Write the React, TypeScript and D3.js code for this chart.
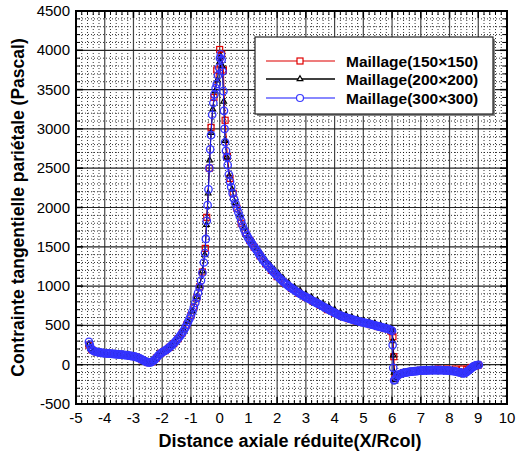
import React from "react";
import * as d3 from "d3";

const xTicks = [-5, -4, -3, -2, -1, 0, 1, 2, 3, 4, 5, 6, 7, 8, 9, 10];
const yTicks = [-500, 0, 500, 1000, 1500, 2000, 2500, 3000, 3500, 4000, 4500];

const redX = [-4.55, -4.45, -4.3, -4.1, -3.9, -3.7, -3.5, -3.3, -3.1, -2.9, -2.7, -2.5, -2.35, -2.2, -2.05, -1.9, -1.75, -1.6, -1.45, -1.3, -1.15, -1.0, -0.9, -0.8, -0.7, -0.6, -0.5, -0.45, -0.36, -0.3, -0.2, -0.1, 0.0, 0.07, 0.13, 0.19, 0.27, 0.36, 0.47, 0.6, 0.75, 0.9, 1.05, 1.2, 1.4, 1.6, 1.8, 2.0, 2.25, 2.5, 2.75, 3.0, 3.25, 3.5, 3.75, 4.0, 4.25, 4.5, 4.75, 5.0, 5.25, 5.5, 5.75, 5.95, 6.0, 6.03, 6.06, 6.1, 6.2, 6.4, 6.7, 7.0, 7.3, 7.6, 7.9, 8.2, 8.45, 8.6, 8.75, 8.9, 9.0];
const redY = [250, 190, 165, 150, 143, 136, 129, 121, 112, 95, 62, 28, 38, 85, 145, 178, 220, 268, 330, 405, 505, 625, 730, 850, 990, 1180, 1480, 1875, 2500, 3020, 3400, 3750, 4010, 3950, 3750, 3110, 2650, 2370, 2180, 1990, 1800, 1680, 1580, 1495, 1385, 1285, 1200, 1120, 1040, 970, 910, 855, 805, 755, 700, 655, 615, 585, 555, 535, 510, 485, 460, 430, 420, 356, 102, -170, -125, -100, -85, -72, -65, -55, -55, -55, -55, -58, -35, -15, -5];

const blackX = [-4.55, -4.48, -4.4, -4.25, -4.1, -3.95, -3.8, -3.65, -3.5, -3.35, -3.2, -3.05, -2.9, -2.75, -2.6, -2.5, -2.4, -2.28, -2.15, -2.0, -1.85, -1.7, -1.55, -1.4, -1.25, -1.1, -0.95, -0.8, -0.7, -0.6, -0.52, -0.46, -0.4, -0.35, -0.3, -0.24, -0.16, -0.08, 0.0, 0.04, 0.09, 0.14, 0.19, 0.25, 0.33, 0.43, 0.55, 0.7, 0.85, 1.0, 1.15, 1.3, 1.45, 1.6, 1.75, 1.9, 2.05, 2.2, 2.4, 2.6, 2.8, 3.0, 3.2, 3.4, 3.6, 3.8, 4.0, 4.2, 4.4, 4.6, 4.8, 5.0, 5.2, 5.4, 5.6, 5.8, 5.96, 6.0, 6.02, 6.04, 6.07, 6.1, 6.2, 6.35, 6.6, 6.9, 7.2, 7.5, 7.8, 8.1, 8.35, 8.5, 8.65, 8.8, 8.95, 9.0];
const blackY = [260, 200, 175, 160, 151, 145, 140, 136, 131, 126, 120, 112, 99, 78, 48, 33, 33, 58, 112, 160, 195, 240, 290, 360, 440, 550, 680, 860, 1000, 1190, 1400, 1780, 2180, 2600, 2950, 3250, 3480, 3620, 3850, 3920, 3800, 3350, 2850, 2640, 2400, 2230, 2060, 1900, 1740, 1645, 1565, 1478, 1408, 1330, 1270, 1210, 1160, 1105, 1040, 990, 942, 898, 858, 818, 778, 738, 702, 662, 632, 606, 582, 562, 546, 526, 506, 486, 465, 445, 300, 120, -100, -195, -135, -110, -92, -78, -72, -68, -68, -78, -95, -105, -85, -35, -8, -3];

const blueX = [-4.55, -4.52, -4.48, -4.44, -4.4, -4.35, -4.3, -4.25, -4.2, -4.15, -4.1, -4.05, -4.0, -3.95, -3.9, -3.85, -3.8, -3.75, -3.7, -3.65, -3.6, -3.55, -3.5, -3.45, -3.4, -3.35, -3.3, -3.25, -3.2, -3.15, -3.1, -3.05, -3.0, -2.95, -2.9, -2.85, -2.8, -2.75, -2.7, -2.65, -2.6, -2.55, -2.5, -2.45, -2.4, -2.35, -2.3, -2.25, -2.2, -2.15, -2.1, -2.05, -2.0, -1.95, -1.9, -1.85, -1.8, -1.75, -1.7, -1.65, -1.6, -1.55, -1.5, -1.45, -1.4, -1.35, -1.3, -1.25, -1.2, -1.15, -1.1, -1.05, -1.0, -0.95, -0.9, -0.85, -0.8, -0.75, -0.7, -0.65, -0.6, -0.55, -0.51, -0.48, -0.45, -0.42, -0.39, -0.36, -0.33, -0.3, -0.26, -0.22, -0.18, -0.14, -0.1, -0.06, -0.02, 0.01, 0.04, 0.07, 0.1, 0.13, 0.15, 0.17, 0.19, 0.22, 0.25, 0.28, 0.32, 0.36, 0.4, 0.45, 0.5, 0.55, 0.6, 0.65, 0.7, 0.75, 0.8, 0.85, 0.9, 0.95,
  1.0, 1.05, 1.1, 1.15, 1.2, 1.25, 1.3, 1.35, 1.4, 1.45, 1.5, 1.55, 1.6, 1.65, 1.7, 1.75, 1.8, 1.85, 1.9, 1.95,
  2.0, 2.05, 2.1, 2.15, 2.2, 2.25, 2.3, 2.35, 2.4, 2.45, 2.5, 2.55, 2.6, 2.65, 2.7, 2.75, 2.8, 2.85, 2.9, 2.95,
  3.0, 3.05, 3.1, 3.15, 3.2, 3.25, 3.3, 3.35, 3.4, 3.45, 3.5, 3.55, 3.6, 3.65, 3.7, 3.75, 3.8, 3.85, 3.9, 3.95,
  4.0, 4.05, 4.1, 4.15, 4.2, 4.25, 4.3, 4.35, 4.4, 4.45, 4.5, 4.55, 4.6, 4.65, 4.7, 4.75, 4.8, 4.85, 4.9, 4.95,
  5.0, 5.05, 5.1, 5.15, 5.2, 5.25, 5.3, 5.35, 5.4, 5.45, 5.5, 5.55, 5.6, 5.65, 5.7, 5.75, 5.8, 5.85, 5.9, 5.96,
  6.0, 6.02, 6.04, 6.07, 6.1, 6.15, 6.2, 6.25, 6.3, 6.35, 6.4, 6.45, 6.5, 6.55, 6.6, 6.65, 6.7, 6.75, 6.8, 6.85, 6.9, 6.95,
  7.0, 7.05, 7.1, 7.15, 7.2, 7.25, 7.3, 7.35, 7.4, 7.45, 7.5, 7.55, 7.6, 7.65, 7.7, 7.75, 7.8, 7.85, 7.9, 7.95,
  8.0, 8.05, 8.1, 8.15, 8.2, 8.25, 8.3, 8.35, 8.4, 8.44, 8.48, 8.52, 8.56, 8.6, 8.64, 8.68, 8.72, 8.76, 8.8, 8.84, 8.88, 8.92, 8.97, 9.02];
const blueY = [290, 255, 210, 190, 178, 170, 165, 160, 156, 153, 150, 148, 146, 144, 143, 141, 140, 138, 137, 135, 134, 132, 130, 128, 127, 125, 123, 121, 119, 116, 113, 110, 107, 103, 97, 91, 84, 75, 65, 55, 45, 36, 30, 28, 30, 38, 50, 68, 88, 110, 130, 145, 157, 168, 180, 192, 205, 220, 236, 252, 270, 290, 310, 332, 355, 380, 405, 435, 468, 505, 545, 585, 625, 675, 730, 785, 850, 915, 985, 1070, 1170, 1300, 1420, 1600, 1830, 2030, 2230, 2500, 2740, 2920, 3180, 3330, 3440, 3520, 3570, 3680, 3780, 3900, 3950, 3880, 3730, 3480, 3230, 3000, 2830, 2720, 2640, 2540, 2420, 2330, 2260, 2180, 2110, 2050, 1990, 1940, 1885, 1830, 1770, 1720, 1680, 1645,
  1610, 1582, 1555, 1527, 1500, 1475, 1450, 1420, 1390, 1365, 1340, 1315, 1290, 1270, 1250, 1230, 1210, 1190, 1170, 1150,
  1130, 1112, 1095, 1078, 1060, 1045, 1030, 1015, 1000, 987, 975, 962, 950, 937, 925, 912, 900, 890, 880, 870,
  860, 850, 840, 830, 820, 810, 800, 790, 780, 770, 760, 750, 740, 730, 720, 710, 700, 690, 680, 670,
  660, 651, 642, 633, 625, 618, 612, 606, 600, 594, 588, 582, 577, 571, 566, 561, 556, 551, 546, 541,
  537, 532, 528, 524, 520, 515, 510, 505, 500, 495, 490, 485, 480, 475, 470, 465, 460, 455, 450, 440,
  430, 250, -40, -200, -190, -160, -135, -124, -115, -110, -105, -101, -98, -95, -92, -89, -87, -85, -83, -81, -79, -77,
  -76, -75, -74, -73, -72, -71, -71, -70, -70, -70, -70, -70, -70, -70, -70, -70, -71, -72, -73, -74,
  -76, -78, -80, -83, -86, -90, -94, -98, -102, -106, -110, -108, -102, -92, -80, -68, -56, -44, -32, -22, -14, -8, -4, -3];

const legendLabels = ["Maillage(150\u00d7150)", "Maillage(200\u00d7200)", "Maillage(300\u00d7300)"];

const W = 516;
const H = 454;
const L = 76, R = 507, T = 11, B = 404;
const FONT = "Liberation Sans, Arial, sans-serif";

export default function App() {
  const x = d3.scaleLinear().domain([-5, 10]).range([L, R]);
  const y = d3.scaleLinear().domain([-500, 4500]).range([B, T]);

  const xMinor = d3.range(-5, 10.001, 0.2).filter((v) => Math.abs(v - Math.round(v)) > 1e-6);
  const yMinor = d3.range(-500, 4501, 100).filter((v) => v % 500 !== 0);

  const line = d3
    .line<[number, number]>()
    .x((d) => x(d[0]))
    .y((d) => y(d[1]));

  const red: [number, number][] = redX.map((v, i) => [v, redY[i]]);
  const black: [number, number][] = blackX.map((v, i) => [v, blackY[i]]);
  const blue: [number, number][] = blueX.map((v, i) => [v, blueY[i]]);

  const tri = d3.symbol().type(d3.symbolTriangle).size(14)() || "";

  const legX = 255, legY = 37, legW = 238, legH = 77;
  const rows = [61, 79, 98];

  return (
    <svg width={W} height={H} style={{ position: "absolute", left: 0, top: 0, background: "#fff" }}>
      <rect x={0} y={0} width={W} height={H} fill="#fff" />
      {xMinor.map((v, i) => (
        <line key={"xm" + i} x1={x(v)} x2={x(v)} y1={T} y2={B} stroke="#000" strokeWidth={0.8} strokeDasharray="1,2" />
      ))}
      {yMinor.map((v, i) => (
        <line key={"ym" + i} x1={L} x2={R} y1={y(v)} y2={y(v)} stroke="#000" strokeWidth={0.8} strokeDasharray="1,2" />
      ))}
      {xTicks.map((v, i) => (
        <line key={"xM" + i} x1={x(v)} x2={x(v)} y1={T} y2={B} stroke="#444" strokeWidth={1.2} />
      ))}
      {yTicks.map((v, i) => (
        <line key={"yM" + i} x1={L} x2={R} y1={y(v)} y2={y(v)} stroke="#222" strokeWidth={1.2} />
      ))}
      {xTicks.map((v, i) => (
        <g key={"xt" + i}>
          <line x1={x(v)} x2={x(v)} y1={B} y2={B - 7} stroke="#000" strokeWidth={1.5} />
          <line x1={x(v)} x2={x(v)} y1={T} y2={T + 7} stroke="#000" strokeWidth={1.5} />
        </g>
      ))}
      {xMinor.map((v, i) => (
        <g key={"xmt" + i}>
          <line x1={x(v)} x2={x(v)} y1={B} y2={B - 4} stroke="#000" strokeWidth={1} />
          <line x1={x(v)} x2={x(v)} y1={T} y2={T + 4} stroke="#000" strokeWidth={1} />
        </g>
      ))}
      {yTicks.map((v, i) => (
        <g key={"yt" + i}>
          <line x1={L} x2={L + 7} y1={y(v)} y2={y(v)} stroke="#000" strokeWidth={1.5} />
          <line x1={R} x2={R - 7} y1={y(v)} y2={y(v)} stroke="#000" strokeWidth={1.5} />
        </g>
      ))}
      {yMinor.map((v, i) => (
        <g key={"ymt" + i}>
          <line x1={L} x2={L + 4} y1={y(v)} y2={y(v)} stroke="#000" strokeWidth={1} />
          <line x1={R} x2={R - 4} y1={y(v)} y2={y(v)} stroke="#000" strokeWidth={1} />
        </g>
      ))}

      <path d={line(red) || ""} fill="none" stroke="#e00000" strokeWidth={1} />
      {red.map((d, i) => (
        <rect key={"r" + i} x={x(d[0]) - 3} y={y(d[1]) - 3} width={6} height={6} fill="none" stroke="#e00000" strokeWidth={1.2} />
      ))}
      <path d={line(black) || ""} fill="none" stroke="#000" strokeWidth={1} />
      {black.map((d, i) => (
        <path key={"k" + i} d={tri} transform={`translate(${x(d[0])},${y(d[1])})`} fill="none" stroke="#000" strokeWidth={1.2} />
      ))}
      <path d={line(blue) || ""} fill="none" stroke="#2020ff" strokeWidth={1} />
      {blue.map((d, i) => (
        <circle key={"b" + i} cx={x(d[0])} cy={y(d[1])} r={3.7} fill="none" stroke="#3434ff" strokeWidth={1.3} />
      ))}

      <rect x={L} y={T} width={R - L} height={B - T} fill="none" stroke="#000" strokeWidth={2} />

      <rect x={legX + 2} y={legY + 2} width={legW} height={legH} fill="#888" />
      <rect x={legX} y={legY} width={legW} height={legH} fill="#fff" stroke="#222" strokeWidth={1.2} />
      {legendLabels.map((lab, i) => {
        const cy = rows[i];
        const col = i === 0 ? "#e85050" : i === 1 ? "#000" : "#6060ff";
        return (
          <g key={"lg" + i}>
            <line x1={266} x2={335} y1={cy} y2={cy} stroke={col} strokeWidth={1.3} />
            {i === 0 && <rect x={297} y={cy - 3} width={6} height={6} fill="#fff" stroke="#e00000" strokeWidth={1.2} />}
            {i === 1 && <path d={tri} transform={`translate(300,${cy})`} fill="#fff" stroke="#000" strokeWidth={1.2} />}
            {i === 2 && <circle cx={300} cy={cy} r={3.5} fill="#fff" stroke="#3a3aff" strokeWidth={1.2} />}
            <text x={346} y={cy + 5.5} fontFamily={FONT} fontWeight="bold" fontSize={15.5} fill="#000">
              {lab}
            </text>
          </g>
        );
      })}

      {yTicks.map((v, i) => (
        <text key={"yl" + i} x={70} y={y(v) + 5} textAnchor="end" fontFamily={FONT} fontSize={15} fill="#000">
          {v}
        </text>
      ))}
      {xTicks.map((v, i) => (
        <text key={"xl" + i} x={x(v)} y={423} textAnchor="middle" fontFamily={FONT} fontSize={15} fill="#000">
          {v}
        </text>
      ))}

      <text x={290} y={447} textAnchor="middle" fontFamily={FONT} fontWeight="bold" fontSize={18} fill="#000">
        Distance axiale réduite(X/Rcol)
      </text>
      <text
        transform={`translate(24,${(T + B) / 2}) rotate(-90)`}
        textAnchor="middle"
        fontFamily={FONT}
        fontWeight="bold"
        fontSize={17.5}
        fill="#000"
      >
        Contrainte tangentielle pariétale (Pascal)
      </text>
    </svg>
  );
}
